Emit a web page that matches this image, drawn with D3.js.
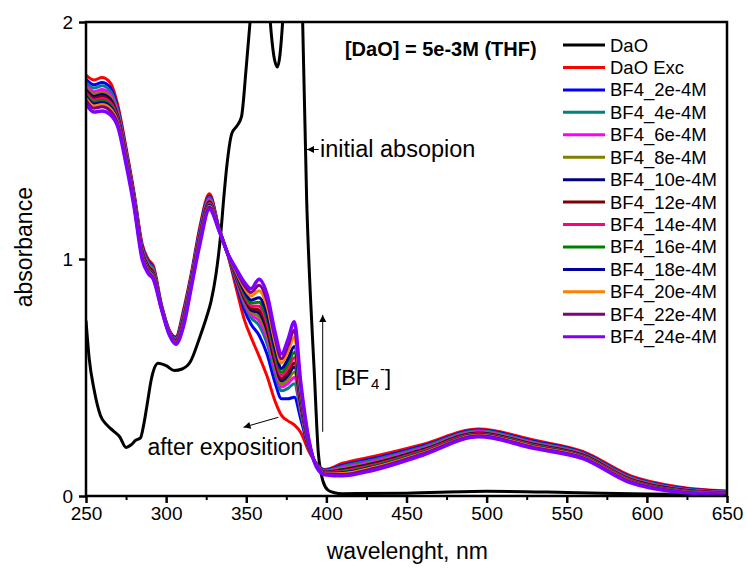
<!DOCTYPE html>
<html>
<head>
<meta charset="utf-8">
<script src="https://cdn.jsdelivr.net/npm/d3@7"></script>
<style>
  body { margin: 0; background: #fff; }
  svg { display: block; font-family: "Liberation Sans", Arial, sans-serif; }
</style>
</head>
<body>
<svg id="chart" width="747" height="569"></svg>
<script>
// wavelength grid shared by the DaO Exc and BF4 spectra (nm)
const wavelengths = [250, 255, 260, 265, 270, 275, 280, 285, 289, 292, 297, 302, 306, 311, 316, 321, 327, 333, 338, 344, 349, 353, 358, 363, 368, 372, 376, 380, 384, 389, 394, 399, 410, 430, 460, 495, 530, 560, 590, 620, 650];

// initial DaO spectrum has its own sampling (goes off scale above 2)
const daoWavelengths = [250, 252, 255, 259, 263, 267, 271, 275, 278, 281, 284, 286, 288, 291, 295, 300, 305, 310, 315, 321, 325, 328, 331, 334, 336, 338, 341, 344, 347, 350, 353, 357, 362, 365, 369.4, 372.7, 376, 381, 385.2, 387.7, 390, 392.4, 395, 398, 401, 405, 410, 450, 500, 550, 600, 650];
const daoValues = [0.74, 0.58, 0.45, 0.34, 0.30, 0.275, 0.25, 0.205, 0.215, 0.235, 0.245, 0.30, 0.38, 0.50, 0.56, 0.55, 0.53, 0.536, 0.565, 0.67, 0.75, 0.82, 0.93, 1.10, 1.26, 1.40, 1.53, 1.56, 1.60, 1.81, 2.05, 2.4, 2.4, 2.0, 1.81, 2.0, 2.5, 2.6, 2.0, 1.25, 0.85, 0.53, 0.18, 0.06, 0.025, 0.014, 0.01, 0.012, 0.02, 0.015, 0.008, 0.005];

const daoExc = [1.776, 1.755, 1.766, 1.745, 1.645, 1.470, 1.280, 1.065, 0.997, 0.972, 0.810, 0.700, 0.672, 0.790, 0.950, 1.134, 1.275, 1.130, 1.030, 0.870, 0.740, 0.670, 0.590, 0.505, 0.400, 0.340, 0.317, 0.300, 0.268, 0.190, 0.135, 0.112, 0.138, 0.168, 0.218, 0.283, 0.235, 0.188, 0.085, 0.038, 0.021];
const bf4_2 = [1.758, 1.735, 1.745, 1.725, 1.631, 1.459, 1.271, 1.055, 0.988, 0.963, 0.807, 0.697, 0.667, 0.779, 0.941, 1.123, 1.265, 1.129, 1.030, 0.893, 0.783, 0.725, 0.678, 0.598, 0.478, 0.410, 0.410, 0.417, 0.325, 0.204, 0.133, 0.109, 0.130, 0.159, 0.211, 0.278, 0.230, 0.183, 0.080, 0.035, 0.019];
const bf4_4 = [1.746, 1.721, 1.731, 1.711, 1.622, 1.452, 1.265, 1.049, 0.982, 0.958, 0.805, 0.695, 0.664, 0.772, 0.935, 1.115, 1.259, 1.128, 1.030, 0.904, 0.804, 0.752, 0.720, 0.643, 0.516, 0.444, 0.454, 0.474, 0.353, 0.210, 0.131, 0.106, 0.125, 0.153, 0.206, 0.275, 0.226, 0.180, 0.077, 0.032, 0.017];
const bf4_6 = [1.732, 1.706, 1.715, 1.696, 1.613, 1.445, 1.258, 1.042, 0.975, 0.951, 0.803, 0.693, 0.660, 0.765, 0.928, 1.107, 1.252, 1.126, 1.030, 0.909, 0.814, 0.764, 0.740, 0.664, 0.533, 0.460, 0.475, 0.500, 0.366, 0.213, 0.130, 0.104, 0.119, 0.147, 0.201, 0.271, 0.222, 0.177, 0.074, 0.030, 0.016];
const bf4_8 = [1.723, 1.696, 1.704, 1.686, 1.605, 1.439, 1.254, 1.036, 0.971, 0.947, 0.801, 0.691, 0.658, 0.759, 0.924, 1.101, 1.246, 1.126, 1.030, 0.913, 0.822, 0.775, 0.756, 0.681, 0.548, 0.473, 0.492, 0.522, 0.376, 0.216, 0.128, 0.102, 0.115, 0.142, 0.198, 0.268, 0.220, 0.175, 0.072, 0.028, 0.014];
const bf4_10 = [1.714, 1.686, 1.694, 1.676, 1.599, 1.434, 1.249, 1.032, 0.966, 0.943, 0.800, 0.690, 0.656, 0.754, 0.919, 1.096, 1.242, 1.125, 1.030, 0.918, 0.830, 0.785, 0.772, 0.698, 0.562, 0.486, 0.509, 0.544, 0.387, 0.218, 0.127, 0.101, 0.111, 0.138, 0.195, 0.266, 0.217, 0.173, 0.070, 0.027, 0.013];
const bf4_12 = [1.707, 1.678, 1.686, 1.668, 1.594, 1.430, 1.246, 1.028, 0.963, 0.940, 0.799, 0.689, 0.654, 0.750, 0.916, 1.092, 1.238, 1.124, 1.030, 0.921, 0.836, 0.793, 0.785, 0.712, 0.574, 0.496, 0.523, 0.561, 0.395, 0.220, 0.126, 0.099, 0.108, 0.135, 0.192, 0.264, 0.215, 0.171, 0.068, 0.025, 0.012];
const bf4_14 = [1.700, 1.670, 1.677, 1.660, 1.588, 1.426, 1.242, 1.024, 0.959, 0.936, 0.797, 0.687, 0.652, 0.746, 0.912, 1.087, 1.234, 1.124, 1.030, 0.925, 0.844, 0.803, 0.801, 0.729, 0.589, 0.509, 0.540, 0.583, 0.406, 0.223, 0.126, 0.098, 0.105, 0.131, 0.189, 0.262, 0.213, 0.169, 0.066, 0.024, 0.012];
const bf4_16 = [1.693, 1.662, 1.669, 1.652, 1.583, 1.422, 1.239, 1.020, 0.956, 0.933, 0.796, 0.686, 0.650, 0.742, 0.909, 1.083, 1.230, 1.123, 1.030, 0.930, 0.852, 0.814, 0.818, 0.747, 0.603, 0.522, 0.557, 0.605, 0.416, 0.225, 0.125, 0.097, 0.101, 0.128, 0.186, 0.260, 0.211, 0.167, 0.064, 0.023, 0.011];
const bf4_18 = [1.685, 1.654, 1.660, 1.644, 1.577, 1.417, 1.235, 1.016, 0.952, 0.929, 0.795, 0.685, 0.648, 0.737, 0.905, 1.078, 1.226, 1.123, 1.030, 0.935, 0.862, 0.826, 0.837, 0.767, 0.620, 0.538, 0.578, 0.631, 0.429, 0.228, 0.124, 0.095, 0.098, 0.124, 0.183, 0.258, 0.209, 0.165, 0.062, 0.021, 0.010];
const bf4_20 = [1.678, 1.646, 1.652, 1.636, 1.572, 1.413, 1.231, 1.012, 0.948, 0.926, 0.794, 0.684, 0.646, 0.733, 0.901, 1.074, 1.222, 1.122, 1.030, 0.942, 0.876, 0.844, 0.866, 0.798, 0.647, 0.561, 0.609, 0.670, 0.448, 0.233, 0.123, 0.094, 0.095, 0.121, 0.181, 0.256, 0.207, 0.164, 0.061, 0.020, 0.009];
const bf4_22 = [1.670, 1.636, 1.642, 1.626, 1.566, 1.408, 1.227, 1.008, 0.944, 0.922, 0.792, 0.682, 0.644, 0.728, 0.897, 1.069, 1.218, 1.121, 1.030, 0.948, 0.887, 0.859, 0.889, 0.822, 0.667, 0.579, 0.633, 0.700, 0.463, 0.236, 0.122, 0.093, 0.091, 0.117, 0.178, 0.254, 0.204, 0.162, 0.059, 0.019, 0.008];
const bf4_24 = [1.655, 1.620, 1.625, 1.610, 1.555, 1.400, 1.220, 1.000, 0.937, 0.915, 0.790, 0.680, 0.640, 0.720, 0.890, 1.060, 1.210, 1.120, 1.030, 0.955, 0.900, 0.875, 0.915, 0.850, 0.690, 0.600, 0.660, 0.735, 0.480, 0.240, 0.120, 0.090, 0.085, 0.110, 0.172, 0.250, 0.200, 0.158, 0.055, 0.016, 0.006];

const seriesNames = ["DaO", "DaO Exc", "BF4_2e-4M", "BF4_4e-4M", "BF4_6e-4M", "BF4_8e-4M", "BF4_10e-4M", "BF4_12e-4M", "BF4_14e-4M", "BF4_16e-4M", "BF4_18e-4M", "BF4_20e-4M", "BF4_22e-4M", "BF4_24e-4M"];
const seriesColors = ["#000000", "#FF0000", "#0000FF", "#008080", "#FF00FF", "#808000", "#000080", "#800000", "#FF0080", "#008000", "#0000A0", "#FF8000", "#800080", "#8000FF"];

const xTicks = [250, 300, 350, 400, 450, 500, 550, 600, 650];
const xMinorTicks = [275, 325, 375, 425, 475, 525, 575, 625];
const yTicks = [0, 1, 2];

// build the series list
const zipped = (xs, ys) => xs.map((w, i) => ({ w: w, a: ys[i] }));
const series = [zipped(daoWavelengths, daoValues)].concat(
	[daoExc, bf4_2, bf4_4, bf4_6, bf4_8, bf4_10, bf4_12, bf4_14, bf4_16, bf4_18, bf4_20, bf4_22, bf4_24]
		.map(vals => zipped(wavelengths, vals))
).map((pts, i) => ({ name: seriesNames[i], color: seriesColors[i], points: pts }));

const svg = d3.select("#chart");
const plot = { left: 86, right: 727, top: 22, bottom: 496 };

const x = d3.scaleLinear().domain([250, 650]).range([plot.left, plot.right]);
const y = d3.scaleLinear().domain([0, 2]).range([plot.bottom, plot.top]);

const defs = svg.append("defs");
defs.append("clipPath").attr("id", "clip")
	.append("rect")
	.attr("x", plot.left).attr("y", plot.top)
	.attr("width", plot.right - plot.left).attr("height", plot.bottom - plot.top);

const line = d3.line()
	.x(d => x(d.w))
	.y(d => y(d.a))
	.curve(d3.curveMonotoneX);

svg.append("g")
	.attr("clip-path", "url(#clip)")
	.selectAll("path")
	.data(series)
	.join("path")
	.attr("d", d => line(d.points))
	.attr("fill", "none")
	.attr("stroke", d => d.color)
	.attr("stroke-width", (d, i) => i === series.length - 1 ? 3.5 : 3)
	.attr("stroke-linejoin", "round");

// frame
svg.append("rect")
	.attr("x", plot.left).attr("y", plot.top)
	.attr("width", plot.right - plot.left).attr("height", plot.bottom - plot.top)
	.attr("fill", "none").attr("stroke", "#000").attr("stroke-width", 2.5);

// bottom axis
const xAxis = svg.append("g").attr("transform", `translate(0,${plot.bottom})`)
	.call(d3.axisBottom(x).tickValues(xTicks).tickSize(7).tickPadding(4).tickFormat(d3.format("d")));
svg.append("g").attr("transform", `translate(0,${plot.bottom})`)
	.call(d3.axisBottom(x).tickValues(xMinorTicks).tickSize(4).tickFormat(""))
	.call(g => g.select(".domain").remove())
	.selectAll("line").attr("stroke-width", 2);

const yAxis = svg.append("g").attr("transform", `translate(${plot.left},0)`)
	.call(d3.axisLeft(y).tickValues(yTicks).tickSize(7).tickPadding(6).tickFormat(d3.format("d")));

[xAxis, yAxis].forEach(g => {
	g.select(".domain").remove();
	g.selectAll("line").attr("stroke-width", 2.5);
	g.selectAll("text")
		.attr("font-size", 19)
		.attr("font-family", "Liberation Sans, Arial, sans-serif")
		.attr("fill", "#000");
});

// axis titles
svg.append("text")
	.attr("transform", `translate(31.5,${y(1.05)}) rotate(-90)`)
	.attr("text-anchor", "middle")
	.attr("font-size", 23)
	.text("absorbance");

svg.append("text")
	.attr("x", x(450.5)).attr("y", 559)
	.attr("text-anchor", "middle")
	.attr("font-size", 23)
	.text("wavelenght, nm");

// title inside plot
svg.append("text")
	.attr("x", x(411.6)).attr("y", y(1.857))
	.attr("font-size", 20)
	.attr("font-weight", "bold")
	.text("[DaO] = 5e-3M (THF)");

// legend
const legend = svg.append("g").attr("transform", "translate(563,45)");
const rows = legend.selectAll("g")
	.data(series)
	.join("g")
	.attr("transform", (d, i) => `translate(0,${i * 22.44})`);
rows.append("line")
	.attr("x1", 0).attr("x2", 42)
	.attr("stroke", d => d.color)
	.attr("stroke-width", 3);
rows.append("text")
	.attr("x", 47).attr("y", 6.5)
	.attr("font-size", 18.5)
	.text(d => d.name);

// annotations
defs.append("marker")
	.attr("id", "head")
	.attr("viewBox", "0 0 10 10")
	.attr("refX", 10).attr("refY", 5)
	.attr("markerWidth", 10).attr("markerHeight", 7)
	.attr("markerUnits", "userSpaceOnUse")
	.attr("orient", "auto")
	.append("path").attr("d", "M0,0L10,5L0,10Z").attr("fill", "#000");

// initial absorption pointer
svg.append("line")
	.attr("x1", x(395.2)).attr("y1", y(1.462))
	.attr("x2", x(387.9)).attr("y2", y(1.462))
	.attr("stroke", "#000").attr("stroke-width", 1)
	.attr("marker-end", "url(#head)");
svg.append("text")
	.attr("x", x(396.0)).attr("y", y(1.43))
	.attr("font-size", 23.5)
	.text("initial absopion");

// after exposition
svg.append("line")
	.attr("x1", x(370.0)).attr("y1", y(0.332))
	.attr("x2", x(348.3)).attr("y2", y(0.290))
	.attr("stroke", "#000").attr("stroke-width", 1)
	.attr("marker-end", "url(#head)");
svg.append("text")
	.attr("x", x(288.3)).attr("y", y(0.173))
	.attr("font-size", 23)
	.text("after exposition");

// [BF4-] increase arrow
svg.append("line")
	.attr("x1", x(397.7)).attr("y1", y(0.271))
	.attr("x2", x(397.7)).attr("y2", y(0.764))
	.attr("stroke", "#000").attr("stroke-width", 1)
	.attr("marker-end", "url(#head)");
const bx = x(405.4), by = y(0.468);
const bf4Label = svg.append("g").attr("font-size", 22);
bf4Label.append("text").attr("x", bx).attr("y", by).text("[BF");
bf4Label.append("text").attr("x", bx + 36).attr("y", by + 4).attr("font-size", 15).text("4");
bf4Label.append("text").attr("x", bx + 45).attr("y", by - 11).attr("font-size", 15).text("-");
bf4Label.append("text").attr("x", bx + 50).attr("y", by).text("]");
</script>
</body>
</html>
